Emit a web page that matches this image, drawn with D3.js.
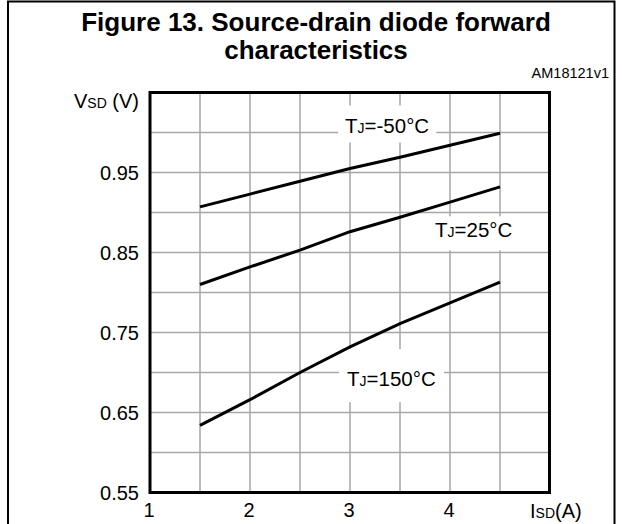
<!DOCTYPE html>
<html>
<head>
<meta charset="utf-8">
<script src="https://cdn.jsdelivr.net/npm/d3@7/dist/d3.min.js"></script>
<style>
  body { margin: 0; background: #fff; }
  svg { display: block; font-family: "Liberation Sans", Arial, sans-serif; }
</style>
</head>
<body>
<div id="chart"></div>
<script>
  // data
  var isd = [1.5, 2, 2.5, 3, 3.5, 4, 4.5]
  var vsdMinus50 = [0.907, 0.923, 0.939, 0.955, 0.969, 0.984, 0.999]
  var vsd25 = [0.810, 0.832, 0.853, 0.876, 0.894, 0.913, 0.932]
  var vsd150 = [0.634, 0.666, 0.700, 0.732, 0.761, 0.787, 0.813]

  var xTicks = [1, 2, 3, 4]
  var yTicks = [0.55, 0.65, 0.75, 0.85, 0.95]
  var xGrid = [1.5, 2, 2.5, 3, 3.5, 4, 4.5]
  var yGrid = [0.6, 0.65, 0.7, 0.75, 0.8, 0.85, 0.9, 0.95, 1.0]

  var curveNames = ['-50', '25', '150']
  var curveValues = [vsdMinus50, vsd25, vsd150]

  var w = 622, h = 524
  var svg = d3.select('#chart').append('svg')
    .attr('width', w)
    .attr('height', h)

  // outer frame of the figure
  svg.append('path')
    .attr('d', 'M8,524 V1.5 H614.5 V524')
    .attr('fill', 'none')
    .attr('stroke', '#000')
    .attr('stroke-width', 2)

  // title
  var title = svg.append('text')
    .attr('text-anchor', 'middle')
    .attr('font-weight', 'bold')
    .attr('font-size', 26)
  title.append('tspan').attr('x', 316).attr('y', 31).text('Figure 13. Source-drain diode forward')
  title.append('tspan').attr('x', 316).attr('y', 59).text('characteristics')

  svg.append('text')
    .attr('x', 609).attr('y', 78)
    .attr('text-anchor', 'end')
    .attr('font-size', 14.5)
    .text('AM18121v1')

  var x = d3.scaleLinear().domain([1, 5]).range([150, 550])
  var y = d3.scaleLinear().domain([0.55, 1.05]).range([492.5, 92.5])

  // grid
  svg.append('g').selectAll('line')
    .data(xGrid).enter().append('line')
    .attr('x1', function(d){ return x(d) }).attr('x2', function(d){ return x(d) })
    .attr('y1', y(1.05)).attr('y2', y(0.55))
    .attr('stroke', '#a6a6a6').attr('stroke-width', 1.5)

  svg.append('g').selectAll('line')
    .data(yGrid).enter().append('line')
    .attr('y1', function(d){ return y(d) }).attr('y2', function(d){ return y(d) })
    .attr('x1', x(1)).attr('x2', x(5))
    .attr('stroke', '#a6a6a6').attr('stroke-width', 1.5)

  // curve labels, white box hides the grid behind them
  var labelPos = [
    {x: 2.95, y: 1.0, padX: 7, padT: 8, padB: 6},
    {x: 3.85, y: 0.869, padX: 7, padT: 2, padB: 9},
    {x: 2.97, y: 0.683, padX: 8, padT: 18, padB: 12}
  ]
  curveNames.forEach(function(name, i){
    var p = labelPos[i]
    var g = svg.append('g')
    var t = g.append('text')
      .attr('x', x(p.x)).attr('y', y(p.y))
      .attr('font-size', 20.5)
    t.append('tspan').text('T')
    t.append('tspan').attr('font-size', 14).text('J')
    t.append('tspan').text('=' + name + '°C')
    var b = t.node().getBBox()
    g.insert('rect', 'text')
      .attr('x', b.x - p.padX).attr('y', b.y - p.padT)
      .attr('width', b.width + 2 * p.padX)
      .attr('height', b.height + p.padT + p.padB)
      .attr('fill', '#fff')
  })

  // curves
  var line = d3.line()
    .x(function(d){ return x(d[0]) })
    .y(function(d){ return y(d[1]) })

  svg.append('g').selectAll('path')
    .data(curveValues).enter().append('path')
    .attr('d', function(vals){
      return line(isd.map(function(v, i){ return [v, vals[i]] }))
    })
    .attr('fill', 'none')
    .attr('stroke', '#000')
    .attr('stroke-width', 3)

  // plot frame
  svg.append('rect')
    .attr('x', x(1)).attr('y', y(1.05))
    .attr('width', x(5) - x(1) - 0.5).attr('height', y(0.55) - y(1.05))
    .attr('fill', 'none')
    .attr('stroke', '#000')
    .attr('stroke-width', 3)

  // tick labels
  svg.append('g').selectAll('text')
    .data(yTicks).enter().append('text')
    .attr('x', 139)
    .attr('y', function(d){ return y(d) + 7 })
    .attr('text-anchor', 'end')
    .attr('font-size', 20)
    .text(function(d){ return d.toFixed(2) })

  svg.append('g').selectAll('text')
    .data(xTicks).enter().append('text')
    .attr('x', function(d){ return x(d) - 1 })
    .attr('y', 517)
    .attr('text-anchor', 'middle')
    .attr('font-size', 20)
    .text(function(d){ return d })

  // axis titles
  var yl = svg.append('text')
    .attr('x', 139).attr('y', 108)
    .attr('text-anchor', 'end')
    .attr('font-size', 20)
  yl.append('tspan').text('V')
  yl.append('tspan').attr('font-size', 14).text('SD')
  yl.append('tspan').text(' (V)')

  var xl = svg.append('text')
    .attr('x', 530).attr('y', 518)
    .attr('font-size', 20)
  xl.append('tspan').text('I')
  xl.append('tspan').attr('font-size', 14).text('SD')
  xl.append('tspan').text('(A)')
</script>
</body>
</html>
